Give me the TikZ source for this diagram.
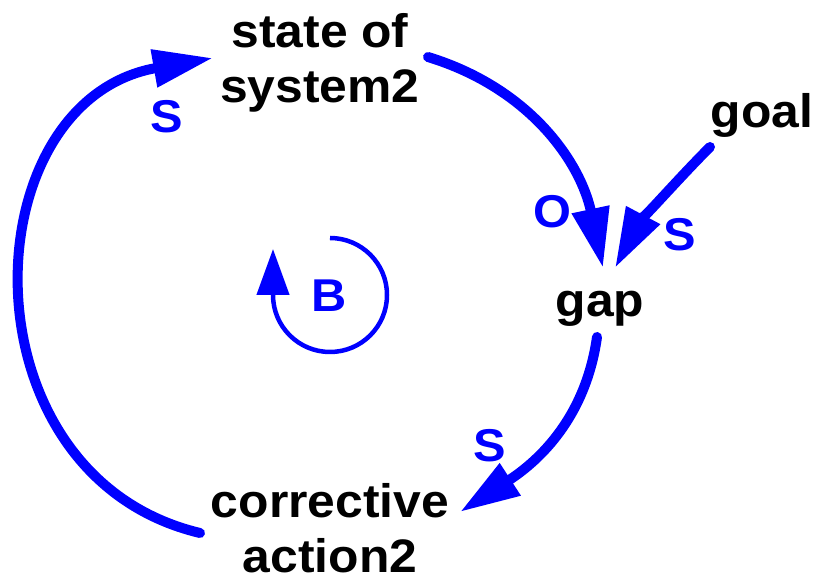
\documentclass[tikz,border=0pt]{standalone}
\usepackage{fontspec}
\setmainfont{Liberation Sans}[FakeStretch=1.06]
\usetikzlibrary{arrows.meta}
\definecolor{loopblue}{RGB}{0,0,255}
\begin{document}
\begin{tikzpicture}[x=1pt,y=1pt,
  lbl/.style={font=\fontsize{47}{55.5}\selectfont\bfseries, align=center, inner sep=0pt},
  sign/.style={font=\fontsize{46}{50}\selectfont\bfseries, text=loopblue, inner sep=0pt},
  link/.style={draw=loopblue, line width=10pt, line cap=round, -{Triangle[length=60pt,width=36pt]}},
  looparrow/.style={draw=loopblue, line width=4.5pt, -{Triangle[length=46pt,width=32pt]}},
]
\useasboundingbox (0,0) rectangle (821,585);
\node[lbl] (state) at (320,522) {state of\\system2};
\node[lbl, anchor=base] (goal) at (762,457) {goal};
\node[lbl, anchor=base] (gap) at (600,268) {gap};
\node[lbl] (corr) at (330,57) {corrective\\action2};
\node[sign] (s1) at (167,468) {S};
\node[sign] (o1) at (552,373) {O};
\node[sign] (s2) at (680,350) {S};
\node[sign] (s3) at (490,139) {S};
\node[sign] (b) at (329,289) {B};
\draw[link] ([shift={(108,6)}]state.center) to[out=-17,in=102] ([shift={(3,49)}]gap.base);
\draw[link] ([shift={(-52,-19)}]goal.base) to[out=-135,in=62,looseness=0.8] ([shift={(15,49)}]gap.base);
\draw[link] ([shift={(-3,-20)}]gap.base) to[out=-98,in=33] ([shift={(130,16)}]corr.center);
\draw[link] ([shift={(-130,-5)}]corr.center) to[out=166.6,in=190,looseness=1.33] ([shift={(-107,5)}]state.center);
\draw[looparrow] ([shift={(1,58)}]b.center) arc[start angle=90,end angle=-180,radius=57] -- ++(0,46);
\end{tikzpicture}
\end{document}
